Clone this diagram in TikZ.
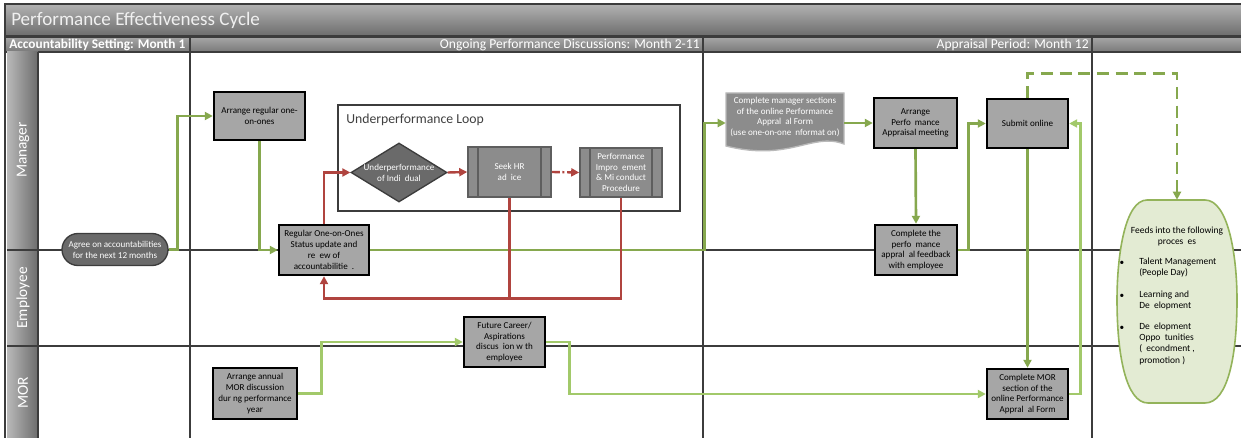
\documentclass[tikz,border=0pt]{standalone}
\usepackage{fontspec}
\setmainfont{Carlito}
\usetikzlibrary{arrows.meta,shapes.geometric}
\definecolor{gline}{HTML}{86A84E}
\definecolor{glight}{HTML}{A2C96A}
\definecolor{rline}{HTML}{B0443F}
\definecolor{boxgray}{HTML}{A6A6A6}
\definecolor{frame}{HTML}{3C3C3C}
\definecolor{procfill}{HTML}{8C8C8C}
\definecolor{procedge}{HTML}{5E5E5E}
\definecolor{darkfill}{HTML}{6A6A6A}
\definecolor{ovalfill}{HTML}{E3EBD3}
\definecolor{ovaledge}{HTML}{93B35A}
\begin{document}
\begin{tikzpicture}[x=0.75pt,y=-0.75pt,
  sz/.style 2 args={minimum width=#1*0.75pt,minimum height=#2*0.75pt},
  box/.style={draw=black,line width=1.8pt,fill=boxgray,inner sep=0pt,align=center,font=\fontsize{6.8}{8.1}\selectfont},
  procbox/.style={draw=procedge,line width=1.2pt,fill=procfill,inner sep=0pt,align=center,text=white,font=\fontsize{6.8}{8.1}\selectfont},
  wtext/.style={text=white,align=center,inner sep=0pt,font=\fontsize{6.8}{8.1}\selectfont},
  btext/.style={text=black,align=left,inner sep=0pt,font=\fontsize{7.1}{8.3}\selectfont},
  hdr/.style={text=white,inner sep=0pt,font=\fontsize{10.2}{11}\selectfont},
  lane/.style={text=white,inner sep=0pt,rotate=90,font=\fontsize{11.5}{12}\selectfont},
  laneline/.style={draw=frame,line width=2pt},
  garrow/.style={draw=gline,line width=2pt,-{Triangle[length=6pt,width=6pt]}},
  glarrow/.style={draw=glight,line width=2pt,-{Triangle[length=6pt,width=6pt]}},
  gdash/.style={draw=gline,line width=2.2pt,dash pattern=on 9pt off 5pt,-{Triangle[length=6pt,width=6pt]}},
  rarrow/.style={draw=rline,line width=1.8pt,-{Triangle[length=6pt,width=6pt]}},
  rplain/.style={draw=rline,line width=1.8pt},
]
\useasboundingbox (0,0) rectangle (1241,438);
\fill[white] (0,0) rectangle (1241,438);
% title bar
\shade[top color=gray!60,bottom color=gray!85!black] (5,4) rectangle (1241,36);
\draw[frame,line width=1.5pt] (5,4) rectangle (1242,36);
\node[anchor=west,text=white!94!black,inner sep=0pt,font=\fontsize{14.3}{16}\selectfont] (title) at (11,20.5) {Performance Effectiveness Cycle};
% phase header
\shade[top color=gray!70,bottom color=gray!95!black] (5,37) rectangle (1241,52);
\draw[frame,line width=1.5pt] (5,37) -- (1242,37) (5,52) -- (1242,52);
\draw[frame,line width=1.5pt] (190,37) -- (190,52) (703,37) -- (703,52) (1092,37) -- (1092,52);
\node[hdr,anchor=west,font=\bfseries\fontsize{10}{11}\selectfont] (ph1) at (9,44.5) {Accountability Setting: Month 1};
\node[hdr,anchor=east] (ph2) at (700,44.5) {Ongoing Performance Discussions: Month 2-11};
\node[hdr,anchor=east] (ph3) at (1089,44.5) {Appraisal Period: Month 12};
% lane header column
\shade[left color=gray!55,right color=gray!85!black] (7,52) rectangle (38,438);
\draw[frame,line width=1.5pt] (5,4) -- (5,438);
\draw[laneline] (38,52) -- (38,438);
\node[lane] (lm) at (23,150) {Manager};
\node[lane] (le) at (23,298) {Employee};
\node[lane] (lr) at (23,393) {MOR};
% lane and column lines
\draw[laneline] (7,250) -- (1241,250);
\draw[laneline] (7,346) -- (1241,346);
\draw[laneline] (190,52) -- (190,438);
\draw[laneline] (703,52) -- (703,438);
\draw[laneline] (1092,52) -- (1092,438);
% underperformance loop frame
\node[draw=frame,line width=1.5pt,fill=white,sz={342}{106},inner sep=0pt] (loop) at (509,158) {};
\node[anchor=west,text=black!75,inner sep=0pt,font=\fontsize{10.3}{12}\selectfont] (looptitle) at (346,120) {Underperformance Loop};
% nodes
\node[draw=frame,line width=1pt,fill=darkfill,rounded corners=12pt,sz={106}{32},wtext] (agree) at (115,249.5) {Agree on accountabilities\\for the next 12 months};
\node[box,sz={91}{48}] (arr1) at (259.5,116) {Arrange regular one-\\on-ones};
\node[box,sz={90}{50}] (reg) at (324,250) {Regular One-on-Ones\\Status update and\\re~~ew of\\accountabilitie~~.};
\node[diamond,draw=frame,line width=1pt,fill=darkfill,sz={96}{59},inner sep=0pt] (dia) at (399,172.5) {};
\node[wtext] (diat) at (dia) {Underperformance\\of Indi~~dual};
\node[procbox,sz={83}{50}] (seek) at (509.5,172) {Seek HR\\ad~~ice};
\node[procbox,sz={82}{49}] (pip) at (621,172.5) {Performance\\Impro~~ement\\\& Mi~conduct\\Procedure};
\foreach \n in {seek,pip}{
  \draw[procedge,line width=1pt] ([xshift=8pt]\n.north west) -- ([xshift=8pt]\n.south west);
  \draw[procedge,line width=1pt] ([xshift=-8pt]\n.north east) -- ([xshift=-8pt]\n.south east);
}
% document shape
\node[sz={118}{60},inner sep=0pt] (doc) at (785,123) {};
\filldraw[fill=procfill,draw=gray!55,line width=1pt] (726,93) -- (844,93) -- (844,144)
  .. controls (812,132) and (790,162) .. (726,146) -- cycle;
\node[wtext] (doct) at (785,117) {Complete manager sections\\of the online Performance\\Appral~~al Form\\(use one-on-one~~nformat~on)};
\node[box,sz={83}{50}] (apm) at (915.5,123) {Arrange\\Perfo~~mance\\Appraisal meeting};
\node[box,sz={82}{50}] (cpf) at (916,250) {Complete the\\perfo~~mance\\appral~~al feedback\\with employee};
\node[box,sz={81}{49}] (sub) at (1027.5,123.5) {Submit online};
\node[box,sz={81}{50}] (cmor) at (1027.5,394) {Complete MOR\\section of the\\online Performance\\Appral~~al Form};
\node[box,sz={81}{50}] (fut) at (504.5,342) {Future Career/\\Aspirations\\discus~~ion w~th\\employee};
\node[box,sz={84}{51}] (amor) at (255,393.5) {Arrange annual\\MOR discussion\\dur~ng performance\\year};
% oval
\node[sz={120}{203},inner sep=0pt] (feed) at (1177,301.5) {};
\filldraw[fill=ovalfill,draw=ovaledge,line width=1.2pt] (1147,200) -- (1205,200)
  .. controls (1228,200) and (1237,255) .. (1237,300)
  .. controls (1237,355) and (1228,403) .. (1205,403) -- (1148,403)
  .. controls (1126,403) and (1117,355) .. (1117,300)
  .. controls (1117,255) and (1125,200) .. (1147,200) -- cycle;
\node[btext,align=center] (feedt) at (1177,236.5) {Feeds into the following\\proces~~es};
\node[btext,font=\fontsize{7}{8}\selectfont] (b1) at (1122,263) {\textbullet};
\node[btext,font=\fontsize{7}{8}\selectfont] (b2) at (1122,296) {\textbullet};
\node[btext,font=\fontsize{7}{8}\selectfont] (b3) at (1122,328) {\textbullet};
\node[btext,anchor=north west] (i1) at (1139,258) {Talent Management\\(People Day)};
\node[btext,anchor=north west] (i2) at (1139,291) {Learning and\\De~~elopment};
\node[btext,anchor=north west] (i3) at (1139,323) {De~~elopment\\Oppo~~tunities\\(~~econdment~,\\promotion~)};
% green connectors
\draw[garrow] (agree.east) -- ++(9,0) |- (arr1.west);
\draw[garrow] (arr1.south) |- (reg.west);
\draw[garrow] (reg.east) -- ++(334,0) |- (doc.west);
\draw[garrow] (doc.east) -- (apm.west);
\draw[garrow] (apm.south) -- (cpf.north);
\draw[garrow] (cpf.east) -- ++(10,0) |- (sub.west);
\draw[garrow] (sub.south) -- (cmor.north);
\draw[glarrow] (cmor.east) -- ++(11,0) |- (sub.east);
\draw[gdash] (sub.north) -- ++(0,-24) -| (feed.north);
\draw[glarrow] (amor.east) -- ++(23,0) |- (fut.west);
\draw[glarrow] (fut.east) -- ++(23,0) |- (cmor.west);
% red connectors
\draw[rarrow] (reg.north) |- (dia.west);
\draw[rarrow] (dia.east) -- (seek.west);
\draw[rarrow,dash pattern=on 6pt off 2pt on 1.5pt off 2pt] (seek.east) -- (pip.west);
\draw[rplain] (seek.south) -- ++(0,100.5);
\draw[rarrow] (pip.south) -- ++(0,100.5) -| (reg.south);
\end{tikzpicture}
\end{document}
